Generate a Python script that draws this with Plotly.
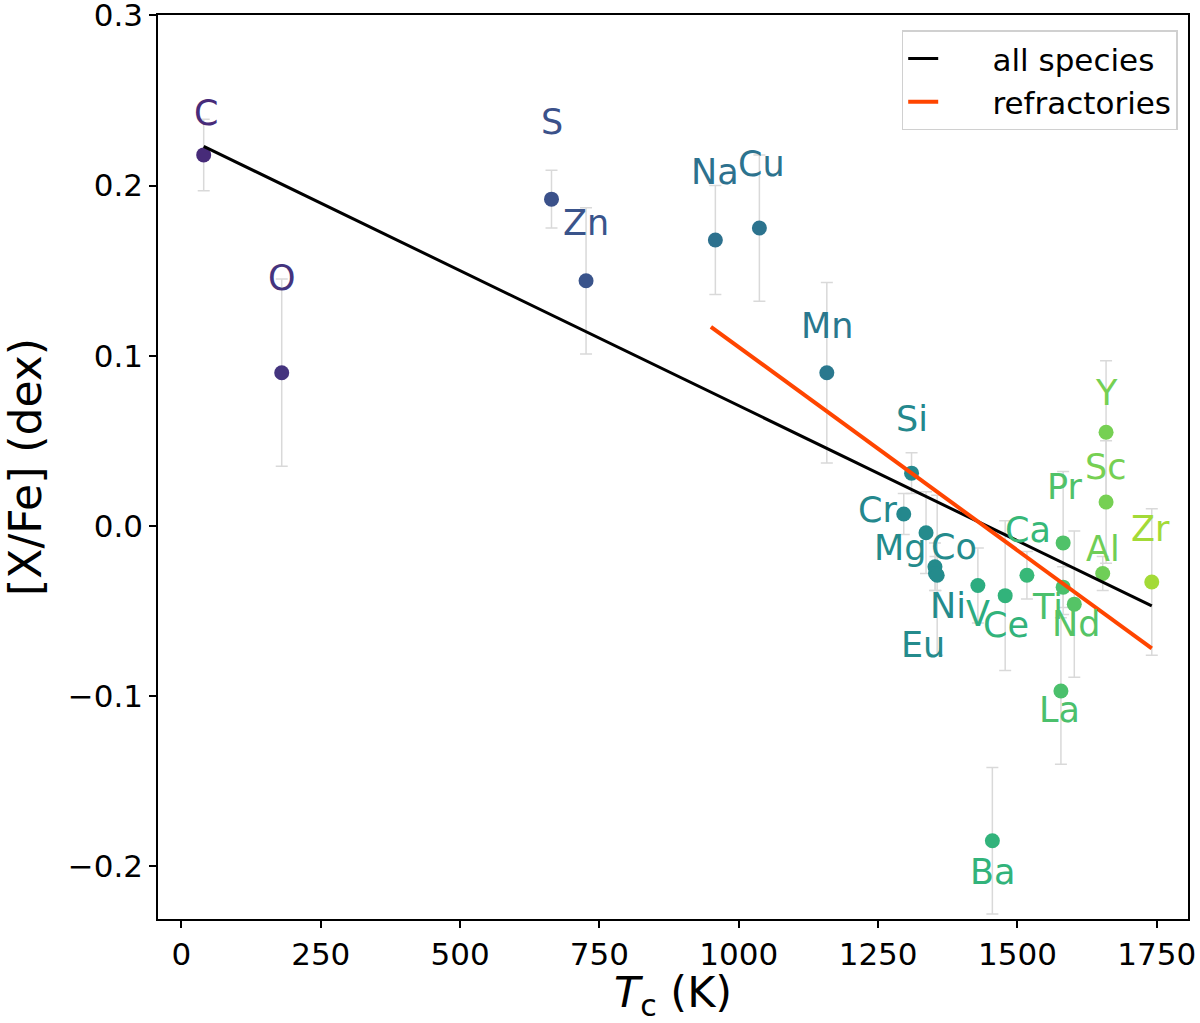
import plotly.graph_objects as go
from plotly.colors import sample_colorscale

elements = ['C', 'O', 'S', 'Zn', 'Na', 'Cu', 'Mn', 'Cr', 'Si', 'Mg', 'Co', 'Ni', 'Eu',
            'V', 'Ba', 'Ce', 'Ca', 'La', 'Ti', 'Pr', 'Nd', 'Al', 'Sc', 'Y', 'Zr']
tc = [40, 180, 664, 726, 958, 1037, 1158, 1296, 1310, 1336, 1352, 1353, 1356,
      1429, 1455, 1478, 1517, 1578, 1582, 1582, 1602, 1653, 1659, 1659, 1741]
xfe = [0.218, 0.090, 0.192, 0.144, 0.168, 0.175, 0.090, 0.007, 0.031, -0.004, -0.024, -0.028, -0.029,
       -0.035, -0.185, -0.041, -0.029, -0.097, -0.036, -0.010, -0.046, -0.028, 0.014, 0.055, -0.033]
err = [0.021, 0.055, 0.017, 0.043, 0.032, 0.043, 0.053, 0.012, 0.012, 0.024, 0.014, 0.010, 0.047,
       0.022, 0.043, 0.044, 0.014, 0.043, 0.012, 0.042, 0.043, 0.010, 0.036, 0.042, 0.043]

# linear fits (end points)
fit_all_x = [40, 1741]
fit_all_y = [0.223, -0.047]
fit_ref_x = [950, 1741]
fit_ref_y = [0.117, -0.072]

# colour position on viridis, per element
cpos = [0.12, 0.15, 0.25, 0.26, 0.37, 0.38, 0.40, 0.47, 0.47, 0.48, 0.48, 0.48, 0.48,
        0.62, 0.65, 0.65, 0.67, 0.71, 0.71, 0.72, 0.73, 0.78, 0.79, 0.79, 0.86]
colors = sample_colorscale('Viridis', cpos)

# label offsets in pixels (dx, dy up)
offsets = {
    'C': (2, 42), 'O': (0, 95), 'S': (0, 77), 'Zn': (0, 58), 'Na': (0, 68),
    'Cu': (2, 64), 'Mn': (0, 47), 'Cr': (-26, 4), 'Si': (0, 54), 'Mg': (-26, -15),
    'Co': (19, 20), 'Ni': (12, -32), 'Eu': (-14, -70), 'V': (0, -29), 'Ba': (0, -31),
    'Ce': (1, -29), 'Ca': (1, 45), 'La': (-1, -19), 'Ti': (-16, -20), 'Pr': (1, 56),
    'Nd': (2, -20), 'Al': (0, 25), 'Sc': (-1, 35), 'Y': (0, 39), 'Zr': (-1, 53),
}

pad = '\u00a0' * 5

fig = go.Figure()

fig.add_trace(go.Scatter(
    x=tc, y=xfe, mode='markers', showlegend=False,
    marker=dict(color=colors, size=15),
    error_y=dict(type='data', array=err, color='#d9d9d9', thickness=1.5, width=6),
))

fig.add_trace(go.Scatter(x=fit_all_x, y=fit_all_y, mode='lines', name=pad + 'all species',
                         line=dict(color='black', width=3)))
fig.add_trace(go.Scatter(x=fit_ref_x, y=fit_ref_y, mode='lines', name=pad + 'refractories',
                         line=dict(color='orangered', width=4)))

for el, x, y, c in zip(elements, tc, xfe, colors):
    dx, dy = offsets[el]
    fig.add_annotation(x=x, y=y, text=el, showarrow=False, xshift=dx, yshift=dy,
                       font=dict(size=35, color=c, family='DejaVu Sans'))

axis_common = dict(showline=True, linecolor='black', linewidth=1.5, mirror=True,
                   ticks='outside', ticklen=7, tickwidth=1.5, tickcolor='black',
                   showgrid=False, zeroline=False, automargin=False,
                   ticklabeloverflow='allow',
                   tickfont=dict(size=31, color='black', family='DejaVu Sans'))

fig.update_layout(
    width=1200, height=1023,
    paper_bgcolor='white', plot_bgcolor='white',
    margin=dict(l=158, r=12, t=15, b=104),
    font=dict(family='DejaVu Sans', color='black'),
    xaxis=dict(range=[-42, 1806], tickvals=[0, 250, 500, 750, 1000, 1250, 1500, 1750],
               title=dict(text='<i>T</i><sub>c</sub> (K)', font=dict(size=43), standoff=2),
               **axis_common),
    yaxis=dict(range=[-0.231, 0.3002], tickvals=[-0.2, -0.1, 0.0, 0.1, 0.2, 0.3], tickformat='.1f',
               title=dict(text='[X/Fe] (dex)', font=dict(size=44), standoff=22),
               **axis_common),
    legend=dict(x=0.99, y=0.983, xanchor='right', yanchor='top',
                bgcolor='white', bordercolor='#d0d0d0', borderwidth=1.5,
                font=dict(size=31)),
)

# drop the browser's default body margin so the figure fills the window
fig.write_html('out.html', config={'displayModeBar': False},
               post_script="document.body.style.margin = '0';")
